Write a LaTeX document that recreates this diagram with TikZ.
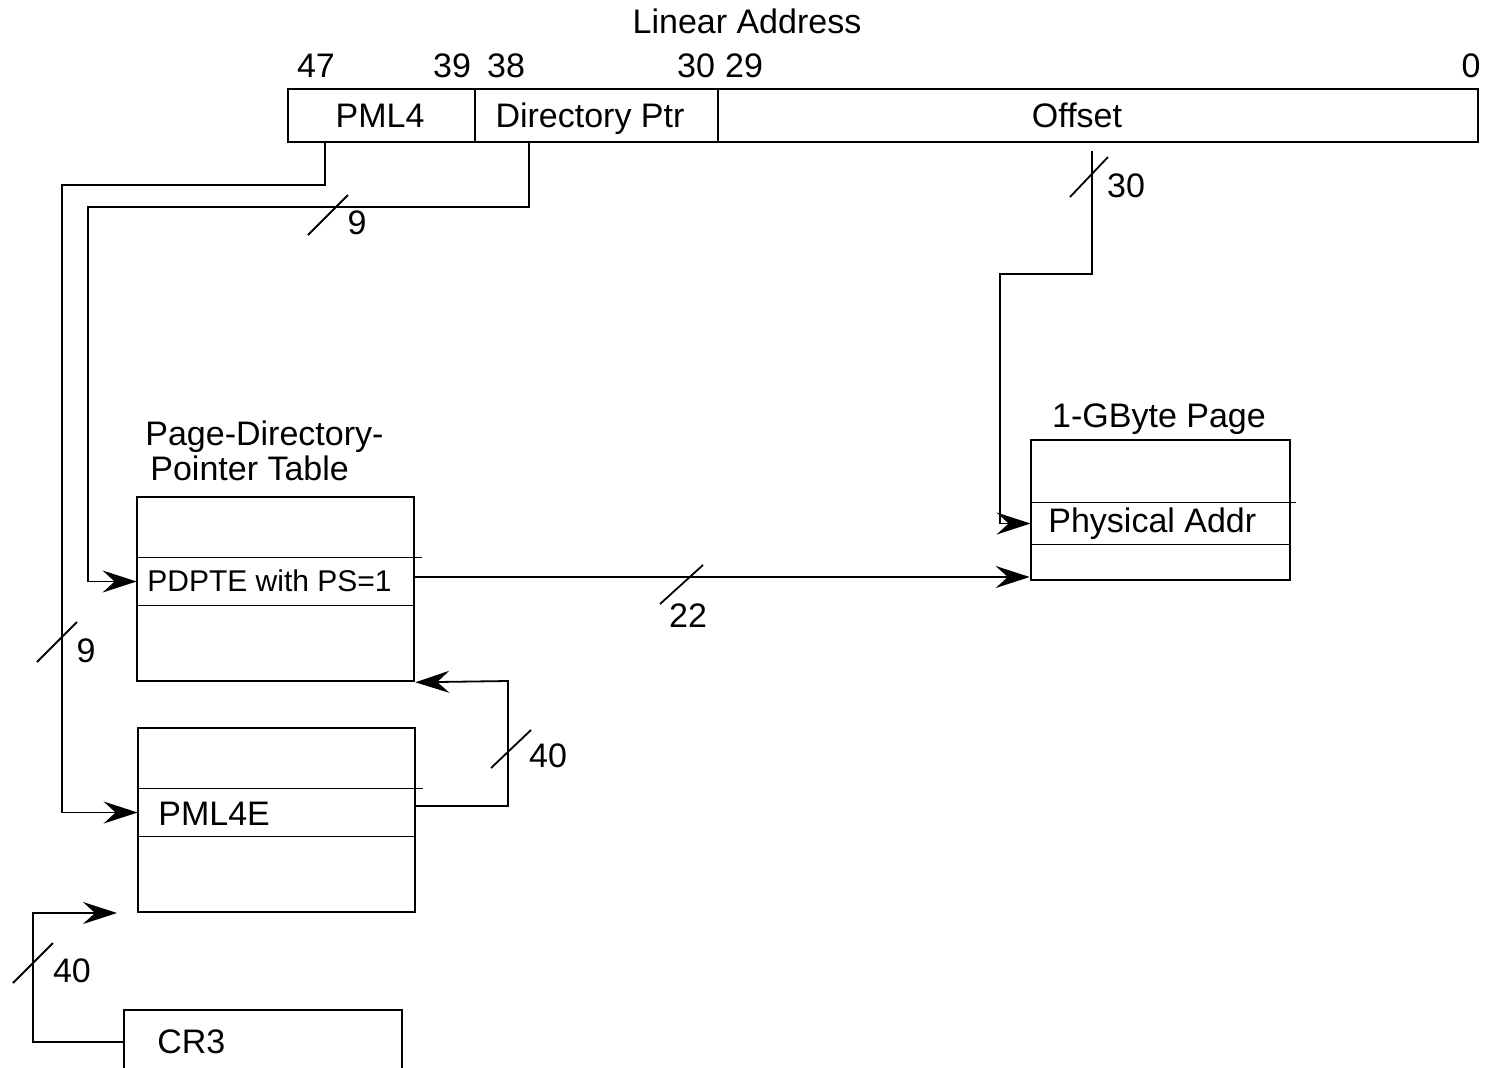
\documentclass[tikz,border=0pt]{standalone}
\usepackage{fontspec}
\setmainfont{Liberation Sans}
\usetikzlibrary{arrows.meta,fit}
\begin{document}
\begin{tikzpicture}[x=0.5pt,y=-0.5pt,
  box/.style={draw, line width=1.3pt, inner sep=0pt},
  rowbox/.style={inner sep=0pt},
  sep/.style={line width=0.8pt},
  conn/.style={line width=0.9pt},
  arr/.style={conn, -{Stealth[length=17pt,width=11pt,inset=6pt]}},
  fs/.style={font=\fontsize{#1}{#1}\selectfont, inner sep=0pt},
  txt/.style={fs=17, anchor=base},
  num/.style={fs=17, anchor=base}]
\useasboundingbox (0,0) rectangle (1488,1067);

% ---- Linear address bar
\coordinate (la1) at (288,89);  \coordinate (la2) at (475,142);
\coordinate (lb2) at (718,142); \coordinate (lc2) at (1478,142);
\node[box, fit=(la1)(la2)] (pml4f) {};
\node[box, fit=(la2|-la1)(lb2)] (dirf) {};
\node[box, fit=(lb2|-la1)(lc2)] (offf) {};
\node[txt] (tpml4) at (380,127) {PML4};
\node[txt] (tdir) at (590,127) {Directory Ptr};
\node[txt] (toff) at (1077,127) {Offset};
\node[txt] (title) at (747,33) {Linear Address};
\node[txt] (b47) at (316,77) {47};
\node[txt] (b39) at (452,77) {39};
\node[txt] (b38) at (506,77) {38};
\node[txt] (b30) at (696,77) {30};
\node[txt] (b29) at (744,77) {29};
\node[txt] (b0) at (1471,77) {0};

% ---- 1-GByte page
\coordinate (g1) at (1031,440); \coordinate (g2) at (1290,580);
\node[box, fit=(g1)(g2)] (gb) {};
\coordinate (gr1) at (1031,503); \coordinate (gr2) at (1290,544);
\node[rowbox, fit=(gr1)(gr2)] (phys) {};
\draw[sep] (phys.north west) -- ([xshift=3]phys.north east);
\draw[sep] (phys.south west) -- (phys.south east);
\node[fs=17, anchor=base west] (tphys) at (1048,532) {Physical Addr};
\node[txt] (tgb) at (1159,427) {1-GByte Page};

% ---- Page-directory-pointer table
\coordinate (p1) at (137,497); \coordinate (p2) at (414,681);
\node[box, fit=(p1)(p2)] (pdpt) {};
\coordinate (pr1) at (137,558); \coordinate (pr2) at (414,605);
\node[rowbox, fit=(pr1)(pr2)] (pdpte) {};
\draw[sep] (pdpte.north west) -- ([xshift=4]pdpte.north east);
\draw[sep] (pdpte.south west) -- (pdpte.south east);
\node[fs=15, anchor=base west] (tpdpte) at (147,591) {PDPTE with PS=1};
\node[fs=17, anchor=base west] (tpdpt1) at (145,445) {Page-Directory-};
\node[fs=17, anchor=base west] (tpdpt2) at (150,480) {Pointer Table};

% ---- PML4 table
\coordinate (m1) at (138,728); \coordinate (m2) at (415,912);
\node[box, fit=(m1)(m2)] (pml4t) {};
\coordinate (mr1) at (138,789); \coordinate (mr2) at (415,836);
\node[rowbox, fit=(mr1)(mr2)] (pml4e) {};
\draw[sep] (pml4e.north west) -- ([xshift=4]pml4e.north east);
\draw[sep] (pml4e.south west) -- (pml4e.south east);
\node[fs=17, anchor=base west] (tpml4e) at (158,825) {PML4E};

% ---- CR3
\begin{scope}
\clip (0,0) rectangle (1488,1067);
\coordinate (c1) at (124,1010); \coordinate (c2) at (402,1090);
\node[box, fit=(c1)(c2)] (cr3) {};
\end{scope}
\node[fs=17, anchor=base west] (tcr3) at (157,1053) {CR3};

% ---- connectors
\coordinate (cr3in) at (117,913);
\draw[arr] (cr3.west |- 0,1042) -| (33,913) -- (cr3in);
\draw[arr] (pml4f.south -| 325,0) |- (62,185) |- (pml4e.west);
\draw[arr] (dirf.south -| 529,0) |- (88,207) |- (pdpte.west);
\draw[arr] (pml4e.east |- 0,806) -| (508,681) -- (pdpt.south east);
\draw[arr] (pdpte.east |- 0,577) -- (gb.west |- 0,577);
\draw[arr] (offf.south -| 1092,0) ++(0,8) |- (1000,274) |- (phys.west);

% ---- width slashes and labels
\draw[conn] (308,235) -- (348,195);  \node[num] (n9a) at (357,234) {9};
\draw[conn] (37,662) -- (77,622);    \node[num] (n9b) at (86,662) {9};
\draw[conn] (1070,197) -- (1108,157); \node[num] (n30) at (1126,197) {30};
\draw[conn] (660,604) -- (703,565);  \node[num] (n22) at (688,627) {22};
\draw[conn] (491,768) -- (531,730);  \node[num] (n40a) at (548,767) {40};
\draw[conn] (13,983) -- (53,943);    \node[num] (n40b) at (72,982) {40};
\end{tikzpicture}
\end{document}
